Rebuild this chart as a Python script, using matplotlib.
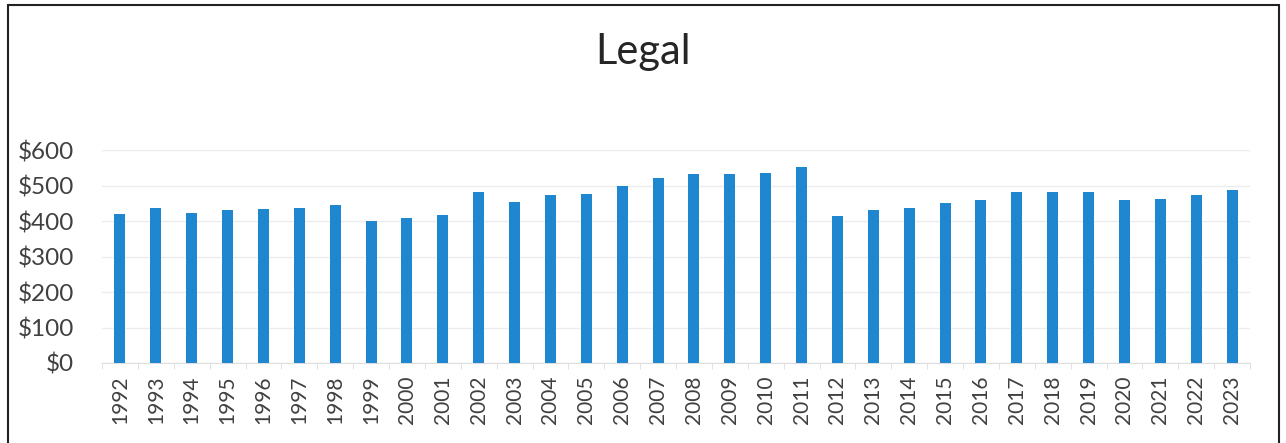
import matplotlib
matplotlib.use("Agg")
import matplotlib.pyplot as plt
from matplotlib.patches import Rectangle

years = [str(y) for y in range(1992, 2024)]
legal = [420, 438, 423, 431, 435, 437, 444, 400, 408, 417,
         482, 454, 472, 477, 499, 522, 532, 532, 536, 551,
         414, 432, 437, 450, 458, 481, 483, 482, 458, 462, 472, 487]

bar_color = "#1f87cf"
text_color = "#404040"

plt.rcParams["font.family"] = ["Lato", "DejaVu Sans"]

fig = plt.figure(figsize=(12.86, 4.43), dpi=100)
ax = fig.add_axes([102 / 1286, 1 - 363 / 443, 1148 / 1286, 213 / 443])

x = range(len(years))
ax.bar(x, legal, width=0.31, color=bar_color, zorder=3)

ax.set_xlim(-0.5, len(years) - 0.5)
ax.set_ylim(0, 600)
ax.set_yticks(range(0, 601, 100))
ax.set_yticklabels(["$" + str(v) for v in range(0, 601, 100)],
                   fontsize=17.5, color=text_color)
ax.set_xticks(list(x))
ax.set_xticklabels(years, rotation=90, fontsize=15, color=text_color)
ax.set_xticks([i + 0.5 for i in range(-1, len(years))], minor=True)
ax.tick_params(axis="x", which="major", length=0, pad=9)
ax.tick_params(axis="x", which="minor", length=4, color="#dddddd")
ax.tick_params(axis="y", length=0, pad=20)

ax.grid(axis="y", color="#ececec", linewidth=1, zorder=0)
for s in ["top", "right", "left"]:
    ax.spines[s].set_visible(False)
ax.spines["bottom"].set_color("#dddddd")

fig.text(0.5, 1 - 52 / 443, "Legal", ha="center", va="center",
         fontsize=30, color="#262626")

# outer chart frame
fig.patches.append(Rectangle((8 / 1286, -0.05), 1271 / 1286, 1.05 - 5 / 443,
                             transform=fig.transFigure, fill=False,
                             edgecolor="#222222", linewidth=1.5))

fig.savefig("out.png", dpi=100)
